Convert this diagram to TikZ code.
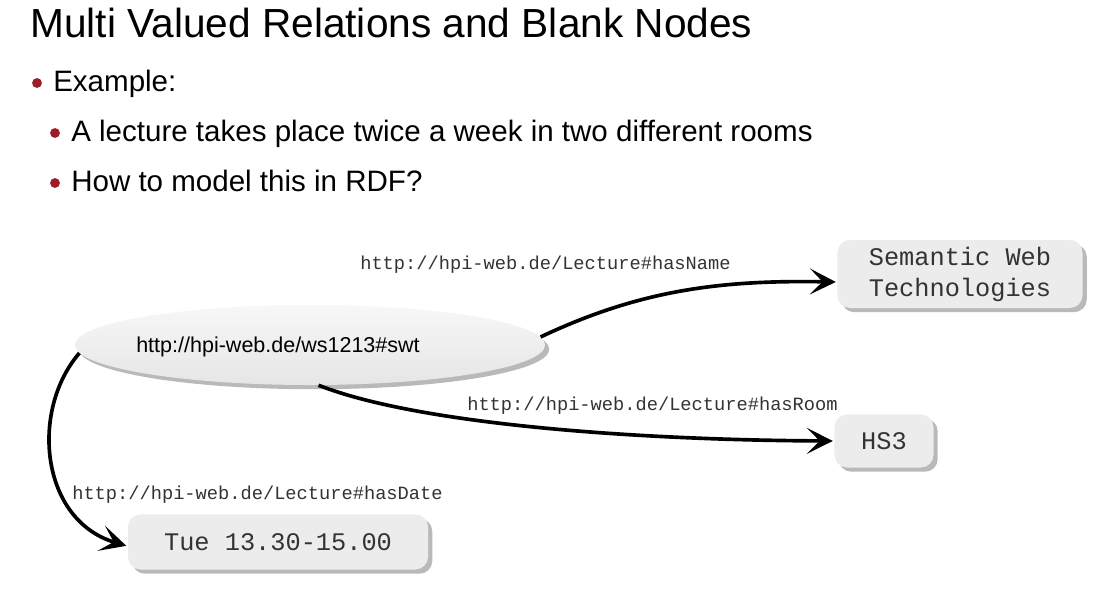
\documentclass[tikz,border=0pt]{standalone}
\usepackage{fontspec}
\setmainfont{Liberation Sans}
\setmonofont{Liberation Mono}
\usetikzlibrary{arrows.meta, shadows, shapes.geometric, positioning}
\definecolor{bulletred}{RGB}{158,28,38}
\definecolor{boxgray}{RGB}{236,236,236}
\tikzset{
    resource/.style={ellipse, minimum width=11.75cm, minimum height=2cm, inner sep=0pt,
        top color=gray!6, bottom color=gray!20,
        drop shadow={shadow xshift=3pt, shadow yshift=-3pt, opacity=.55}},
    literal/.style={rounded corners=9pt, fill=boxgray, align=center, inner sep=0pt,
        font=\ttfamily\fontsize{18}{22}\selectfont, text=black!80,
        drop shadow={shadow xshift=3pt, shadow yshift=-3pt, opacity=.55}},
    rel/.style={-{Stealth[length=6.5mm, width=6.5mm, inset=3.2mm]}, line width=2.6pt, shorten >=1pt},
    rellabel/.style={anchor=base west, inner sep=0pt, font=\ttfamily\fontsize{13.3}{16}\selectfont, text=black!80},
    dot/.style={circle, fill=bulletred, inner sep=0pt, minimum size=7pt}
}
\begin{document}
\begin{tikzpicture}[x=0.025cm, y=-0.025cm]
    \useasboundingbox (0,0) rectangle (1120,616);
    % Title and bullets
    \node[anchor=base west, inner sep=0pt, font=\fontsize{28.9}{33}\selectfont] (title) at (30,38)
        {Multi Valued Relations and Blank Nodes};
    \foreach \txt/\i/\x/\y in {Example:/1/37/92,
            A lecture takes place twice a week in two different rooms/2/55/142,
            How to model this in RDF?/3/55/192} {
        \node[dot] (Dot-\i) at (\x,\y-9) {};
        \node[anchor=base west, inner sep=0pt, font=\fontsize{21}{25}\selectfont] (Item-\i) at (\x+16,\y) {\txt};
    }
    % Resource and literals
    \node[resource] (swt) at (310,345) {};
    \node[font=\fontsize{15.3}{18}\selectfont] (swtname) at (278,347) {http://hpi-web.de/ws1213\#swt};
    \node[literal, minimum width=6.125cm, minimum height=1.7cm] (swebtech) at (960,274)
        {Semantic Web\\Technologies};
    \node[literal, minimum width=2.475cm, minimum height=1.325cm] (hs3) at (884,441) {HS3};
    \node[literal, minimum width=7.5cm, minimum height=1.375cm] (tue) at (278,542)
        {Tue 13.30-15.00};
    % Properties
    \draw[rel] (swt.2) .. controls (640,290) and (720,280) .. (swebtech.west |- 0,282);
    \draw[rel] (swt.-78) .. controls (420,425) and (640,440) .. (hs3.west);
    \draw[rel] (swt.182) .. controls (30,410) and (40,520) .. ([yshift=-3pt]tue.west);
    \node[rellabel] (hasname) at (360,270) {http://hpi-web.de/Lecture\#hasName};
    \node[rellabel] (hasroom) at (467,411) {http://hpi-web.de/Lecture\#hasRoom};
    \node[rellabel] (hasdate) at (72,500) {http://hpi-web.de/Lecture\#hasDate};
\end{tikzpicture}
\end{document}
